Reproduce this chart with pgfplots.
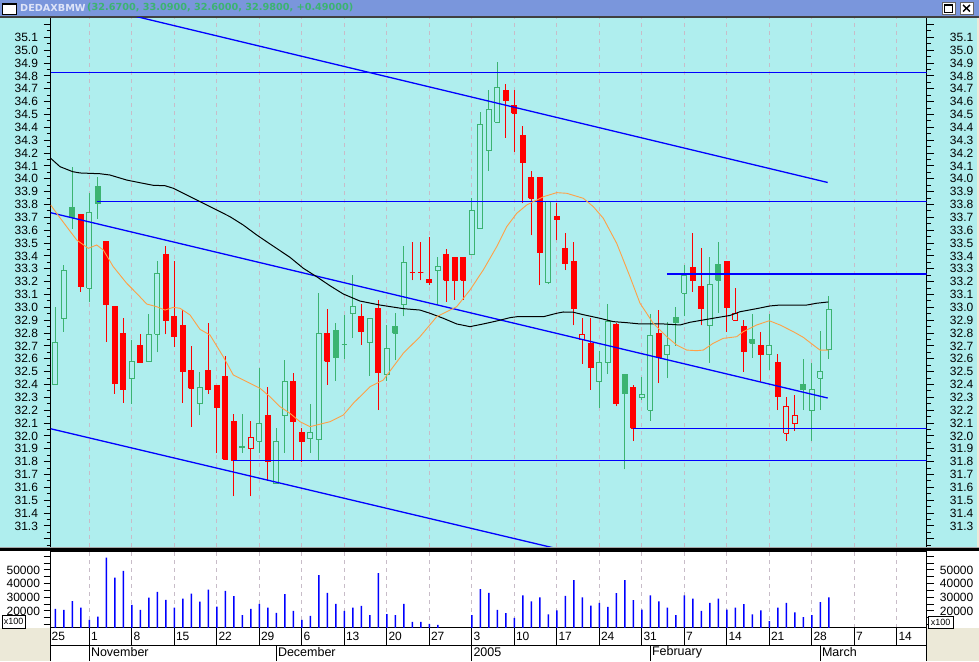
\documentclass[border=0pt]{standalone}
\usepackage{pgfplots}
\pgfplotsset{compat=1.18}
\usepackage{pgfplotstable}
\usepackage{fontspec}
\setmainfont{Liberation Sans}
\newfontfamily\titlefont{DejaVu Sans}
\definecolor{bgcyan}{RGB}{175,238,238}
\definecolor{cgreen}{RGB}{60,179,113}
\definecolor{cred}{RGB}{255,0,0}
\definecolor{titlebar}{RGB}{122,150,220}
\definecolor{titletxt}{RGB}{222,228,248}
\definecolor{winbg}{RGB}{236,233,216}
\definecolor{gridc}{RGB}{200,188,200}
\definecolor{maor}{RGB}{255,160,70}

\pgfplotstableread{
d o h l c g
1 32.40 33.00 32.40 32.73 1
2 32.91 33.33 32.81 33.29 1
3 33.78 34.09 33.61 33.70 1
4 33.72 33.72 33.12 33.16 0
5 33.15 33.89 33.04 33.74 1
6 33.94 34.01 33.69 33.81 1
7 33.51 33.51 32.73 33.02 0
8 33.01 33.01 32.33 32.41 0
9 32.80 32.92 32.26 32.36 0
10 32.45 32.75 32.25 32.58 1
11 32.70 32.79 32.57 32.57 0
12 32.58 32.95 32.58 32.79 1
13 32.79 33.36 32.65 33.26 1
14 33.41 33.48 32.79 32.90 0
15 32.93 33.36 32.69 32.77 0
16 32.86 32.98 32.26 32.50 0
17 32.51 32.70 32.07 32.37 0
18 32.25 32.50 32.16 32.38 1
19 32.51 32.88 32.33 32.36 0
20 32.39 32.39 31.87 32.22 0
21 32.46 32.62 31.82 31.82 0
22 32.11 32.17 31.53 31.81 0
23 31.92 32.17 31.87 31.91 1
24 31.90 32.12 31.53 31.99 0
25 31.96 32.53 31.87 32.10 1
26 32.16 32.38 31.65 31.80 0
27 31.63 32.06 31.63 31.96 1
28 32.16 32.59 31.87 32.42 1
29 32.42 32.49 31.81 32.11 0
30 32.03 32.06 31.80 31.96 0
31 31.98 32.25 31.87 32.03 1
32 31.97 33.11 31.81 32.80 1
33 32.80 32.99 32.40 32.58 0
34 32.82 32.88 32.43 32.61 1
35 32.71 32.94 32.60 32.71 1
36 32.95 33.25 32.76 33.01 1
37 32.93 33.03 32.71 32.81 0
38 32.73 32.91 32.47 32.91 1
39 32.99 33.06 32.20 32.49 0
40 32.48 32.86 32.43 32.68 1
41 32.85 32.96 32.59 32.80 1
42 33.02 33.48 32.93 33.35 1
43 33.27 33.51 33.21 33.27 0
44 33.27 33.51 33.21 33.27 0
45 33.22 33.55 33.17 33.19 0
46 33.29 33.39 33.02 33.32 1
47 33.41 33.45 33.04 33.21 0
48 33.39 33.39 33.06 33.21 0
49 33.39 33.39 33.06 33.21 0
50 33.41 33.85 33.41 33.75 1
51 33.61 34.52 33.61 34.42 1
52 34.22 34.69 34.06 34.54 1
53 34.44 34.91 34.44 34.71 1
54 34.69 34.74 34.32 34.61 0
55 34.57 34.69 34.21 34.51 0
56 34.34 34.41 33.81 34.13 0
57 34.01 34.06 33.56 33.85 0
58 34.01 34.01 33.17 33.43 0
59 33.19 33.83 33.18 33.82 1
60 33.71 33.81 33.52 33.68 0
61 33.46 33.58 33.29 33.34 0
62 33.36 33.51 32.86 32.99 0
63 32.75 32.92 32.56 32.79 0
64 32.72 32.92 32.36 32.53 0
65 32.42 32.66 32.22 32.57 1
66 32.57 33.03 32.48 32.89 1
67 32.87 32.88 32.23 32.25 0
68 32.48 32.48 31.74 32.33 1
69 32.38 32.40 31.96 32.06 0
70 32.30 32.46 32.28 32.32 1
71 32.20 32.95 32.12 32.78 1
72 32.80 32.98 32.41 32.61 0
73 32.63 32.89 32.45 32.70 1
74 32.92 33.00 32.70 32.88 1
75 33.11 33.33 32.93 33.25 1
76 33.31 33.58 33.12 33.21 0
77 33.16 33.46 32.86 32.99 0
78 32.86 33.39 32.57 33.18 1
79 33.33 33.51 32.96 33.21 1
80 33.36 33.36 32.81 33.00 0
81 32.90 33.15 32.90 32.95 0
82 32.85 32.90 32.50 32.66 0
83 32.75 32.95 32.61 32.72 1
84 32.70 32.81 32.42 32.63 0
85 32.63 32.95 32.51 32.70 1
86 32.57 32.64 32.20 32.31 0
87 32.02 32.30 31.96 32.23 0
88 32.10 32.32 32.04 32.16 0
89 32.40 32.60 32.20 32.36 1
90 32.20 32.57 31.96 32.36 1
91 32.45 32.82 32.20 32.50 1
92 32.67 33.09 32.60 32.98 1
}\candles

\pgfplotstableread{
d v
1 21460
2 20730
3 27310
4 22440
5 13420
6 15860
7 59010
8 44380
9 49260
10 24390
11 20730
12 29750
13 33900
14 28050
15 22440
16 29020
17 32680
18 26830
19 35600
20 23170
21 34630
22 30970
23 17070
24 21460
25 25120
26 22440
27 18540
28 32430
29 20000
30 13420
31 16340
32 46330
33 33170
34 25120
35 20000
36 22440
37 23660
38 17070
39 47790
40 17800
41 17070
42 25120
43 11950
44 11950
45 10490
46 9760
50 17070
51 36090
52 33170
53 20730
54 18500
55 15000
56 31500
57 27000
58 30000
59 17500
60 20500
61 31000
62 42500
63 30000
64 24000
65 26000
66 23000
67 33000
68 42500
69 28000
70 21000
71 31500
72 27000
73 22500
74 17000
75 31500
76 29000
77 20000
78 26000
79 29000
80 21000
81 22500
82 25000
83 17500
84 20500
85 12500
86 22500
87 26000
88 19000
89 15500
90 17000
91 26500
92 30000
}\vols

\pgfplotstableread{
x y
0.459 34.159
1.553 34.094
3.047 34.055
3.906 34.045
6.259 34.039
7.435 34.029
9.4 33.99
10.965 33.969
12.53 33.949
13.906 33.946
14.88 33.926
16.459 33.874
18.024 33.822
19.988 33.757
21.553 33.705
23.118 33.64
24.694 33.563
26.259 33.493
28.612 33.389
30.176 33.304
31.753 33.238
33.318 33.168
34.882 33.104
36.847 33.049
39.2 33.018
41.94 32.99
43.906 32.979
45.082 32.954
46.647 32.915
48.224 32.871
49.788 32.85
51.353 32.871
52.929 32.894
54.494 32.92
55.282 32.927
58.412 32.927
59.988 32.954
60.765 32.964
61.94 32.962
63.118 32.943
65.082 32.915
66.647 32.889
68.224 32.881
69.788 32.871
72.53 32.871
74.494 32.863
75.671 32.884
77.235 32.902
78.812 32.92
80.376 32.937
81.553 32.966
83.518 32.99
85.082 33.011
86.259 33.018
89.4 33.018
90.576 33.032
91.94 33.042
}\maslow

\pgfplotstableread{
x y
0.459 33.796
1.165 33.731
2.341 33.627
3.518 33.524
4.882 33.459
5.871 33.485
6.647 33.446
7.824 33.316
9.4 33.187
10.576 33.109
11.753 33.026
12.929 33.005
13.906 32.979
14.882 33.0
15.671 32.993
16.847 32.941
18.024 32.829
19.2 32.785
20.765 32.616
21.941 32.474
23.518 32.422
25.082 32.371
26.259 32.305
27.435 32.228
28.612 32.176
29.788 32.111
30.965 32.072
31.753 32.085
33.318 32.111
34.882 32.163
36.059 32.254
38.024 32.383
39.588 32.435
41.941 32.643
43.906 32.772
45.871 32.927
48.224 33.005
49.788 33.135
51.353 33.291
52.929 33.472
54.106 33.627
55.282 33.731
56.459 33.796
58.412 33.86
59.988 33.892
61.165 33.887
63.118 33.848
64.294 33.783
65.471 33.693
67.047 33.498
68.612 33.238
69.788 33.032
71.353 32.876
72.929 32.772
74.106 32.707
75.282 32.668
76.459 32.663
77.235 32.668
78.412 32.721
79.588 32.759
81.165 32.772
81.941 32.811
83.518 32.863
85.0 32.896
86.259 32.863
87.824 32.811
89.0 32.767
90.176 32.707
90.965 32.668
91.94 32.668
}\mafast

\def\majorp{31.3,31.4,31.5,31.6,31.7,31.8,31.9,32.0,32.1,32.2,32.3,32.4,32.5,32.6,32.7,32.8,32.9,33.0,33.1,33.2,33.3,33.4,33.5,33.6,33.7,33.8,33.9,34.0,34.1,34.2,34.3,34.4,34.5,34.6,34.7,34.8,34.9,35.0,35.1}
\def\minorp{31.15,31.25,31.35,31.45,31.55,31.65,31.75,31.85,31.95,32.05,32.15,32.25,32.35,32.45,32.55,32.65,32.75,32.85,32.95,33.05,33.15,33.25,33.35,33.45,33.55,33.65,33.75,33.85,33.95,34.05,34.15,34.25,34.35,34.45,34.55,34.65,34.75,34.85,34.95,35.05,35.15}

\pgfplotsset{
  chartbase/.style={scale only axis, anchor=south west, width=876pt,
    xmin=0.459, xmax=103.52},
  pricey/.style={height=529pt, ymin=31.1366, ymax=35.2501},
  voly/.style={height=77pt, ymin=7560, ymax=63890},
  labelonly/.style={axis line style={draw=none}, xtick=\empty,
    major tick length=0pt, minor tick length=0pt, tick style={draw=none},
    tick label style={font=\fontsize{12}{12}\selectfont, inner sep=0pt},
    /pgf/number format/assume math mode=true},
}

\begin{document}
\begin{tikzpicture}[x=1pt,y=1pt]
\useasboundingbox (0pt,0pt) rectangle (979pt,661pt);
\fill[winbg] (0,0) rectangle (979,661);
% title bar
\fill[titlebar] (0,645) rectangle (979,661);
\fill[black!75] (0,643) rectangle (979,645);
\fill[white] (2.5,646.5) rectangle (16,657.5);
\draw[black, line width=1pt] (2.5,646.5) rectangle (16,657.5);
\draw[black, line width=2pt] (2.5,656.5) -- (16,656.5);
\node[anchor=west, inner sep=0pt, text=titletxt, font=\titlefont\bfseries\fontsize{9.7}{10}\selectfont] at (20,653.2) {DEDAXBMW};
\node[anchor=west, inner sep=0pt, text=cgreen, font=\titlefont\bfseries\fontsize{9.7}{10}\selectfont] at (87,653.2) {(32.6700, 33.0900, 32.6000, 32.9800, +0.49000)};
\fill[white] (942,646.5) rectangle (955,659);
\draw[black!60, line width=0.8pt] (942,646.5) rectangle (955,659);
\draw[black, line width=0.8pt] (944.5,649) rectangle (952.5,656.5);
\draw[black, line width=1.6pt] (944.5,656) -- (952.5,656);
\fill[white] (960,646.5) rectangle (973,659);
\draw[black!60, line width=0.8pt] (960,646.5) rectangle (973,659);
\draw[black, line width=1.4pt] (963,649.5) -- (970,656) (963,656) -- (970,649.5);
% panels
\fill[bgcyan] (0,114) rectangle (977,643);
\fill[white] (0,33) rectangle (979,110);
\fill[white] (50.7,0) rectangle (926.7,33);
\fill[black!35] (0,112.5) rectangle (979,114);
\fill[black] (0,110) rectangle (979,112.5);

% ---------- main price axis ----------
\begin{axis}[chartbase, pricey, at={(50.7pt,114pt)},
  separate axis lines,
  x axis line style={draw=none},
  y axis line style={black, line width=1pt},
  xtick={5,10,...,100}, xticklabels={}, xtick style={draw=none},
  xmajorgrids, major x grid style={gridc, line width=0.9pt, dash pattern=on 4pt off 4pt},
  ytick=\majorp, yticklabels={},
  extra y ticks={31.2,35.2}, extra y tick labels={},
  minor ytick=\minorp,
  tick align=outside, major tick length=7pt, minor tick length=4pt,
  ytick style={black, line width=1pt},
]
\pgfplotstablegetrowsof{\candles}
\pgfmathtruncatemacro{\lastrow}{\pgfplotsretval-1}
\pgfplotsforeachungrouped \i in {0,...,\lastrow}{%
  \pgfplotstablegetelem{\i}{d}\of\candles \let\Kd=\pgfplotsretval
  \pgfplotstablegetelem{\i}{o}\of\candles \let\Ko=\pgfplotsretval
  \pgfplotstablegetelem{\i}{h}\of\candles \let\Kh=\pgfplotsretval
  \pgfplotstablegetelem{\i}{l}\of\candles \let\Kl=\pgfplotsretval
  \pgfplotstablegetelem{\i}{c}\of\candles \let\Kc=\pgfplotsretval
  \pgfplotstablegetelem{\i}{g}\of\candles \let\Kg=\pgfplotsretval
  \pgfmathsetmacro{\Kxa}{\Kd-0.31}%
  \pgfmathsetmacro{\Kxb}{\Kd+0.31}%
  \pgfmathsetmacro{\Kbot}{min(\Ko,\Kc)}%
  \pgfmathsetmacro{\Ktop}{max(\Ko,\Kc)}%
  \ifnum\Kg=1 \def\Kcol{cgreen}\else\def\Kcol{cred}\fi
  \pgfmathparse{(\Kc<\Ko) ? 1 : 0}%
  \ifdim\pgfmathresult pt>0.5pt \let\Kfil=\Kcol \else\def\Kfil{bgcyan}\fi
  \edef\Ktmp{%
    \noexpand\addplot[draw=\Kcol, line width=1pt, mark=none] coordinates {(\Kd,\Kl) (\Kd,\Kh)};
    \noexpand\addplot[draw=\Kcol, fill=\Kfil, line width=1pt, mark=none] coordinates {(\Kxa,\Kbot) (\Kxb,\Kbot) (\Kxb,\Ktop) (\Kxa,\Ktop) (\Kxa,\Kbot)};
  }%
  \Ktmp
}
% channel and support lines
\addplot[blue, line width=1.3pt, mark=none] coordinates {(9.79,35.273) (91.87,33.971)};
\addplot[blue, line width=1.3pt, mark=none] coordinates {(0.46,33.736) (91.87,32.295)};
\addplot[blue, line width=1.3pt, mark=none] coordinates {(0.46,32.056) (60.38,31.118)};
\addplot[blue, line width=1.3pt, mark=none] coordinates {(0.46,34.825) (103.52,34.825)};
\addplot[blue, line width=1.3pt, mark=none] coordinates {(5.94,33.822) (103.52,33.822)};
\addplot[blue, line width=1.3pt, mark=none] coordinates {(72.96,33.26) (103.52,33.26)};
\addplot[blue, line width=1.3pt, mark=none] coordinates {(69,32.057) (103.52,32.057)};
\addplot[blue, line width=1.3pt, mark=none] coordinates {(21.94,31.808) (103.52,31.808)};
% moving averages
\addplot[black, line width=1pt, mark=none] table[x=x,y=y] {\maslow};
\addplot[maor, line width=0.9pt, mark=none] table[x=x,y=y] {\mafast};
\end{axis}

% left / right price labels
\begin{axis}[chartbase, pricey, at={(50.7pt,114pt)}, labelonly,
  ytick=\majorp, yticklabel pos=left,
  yticklabel style={anchor=east, xshift=-12.5pt},
  /pgf/number format/.cd, fixed, fixed zerofill, precision=1]
\end{axis}
\begin{axis}[chartbase, pricey, at={(50.7pt,114pt)}, labelonly,
  ytick=\majorp, yticklabel pos=right,
  yticklabel style={anchor=west, xshift=23pt},
  /pgf/number format/.cd, fixed, fixed zerofill, precision=1]
\end{axis}

% ---------- volume axis ----------
\begin{axis}[chartbase, voly, at={(50.7pt,33pt)},
  axis line style={black, line width=1pt},
  xtick={5,10,...,100}, xticklabels={}, xtick style={draw=none},
  xmajorgrids, major x grid style={gridc, line width=0.9pt, dash pattern=on 4pt off 4pt},
  ytick={20000,30000,40000,50000}, yticklabels={},
  minor ytick={10000,15000,25000,35000,45000,55000,60000},
  tick align=outside, major tick length=7pt, minor tick length=7pt,
  ytick style={black, line width=1pt},
  scaled y ticks=false,
]
\addplot[ybar, bar width=1.5pt, fill=blue, draw=none] table[x=d,y=v] {\vols};
\end{axis}
\begin{axis}[chartbase, voly, at={(50.7pt,33pt)}, labelonly, scaled y ticks=false,
  ytick={20000,30000,40000,50000}, yticklabel pos=left,
  yticklabel style={anchor=east, xshift=-10.5pt},
  /pgf/number format/.cd, fixed, 1000 sep={}]
\end{axis}
\begin{axis}[chartbase, voly, at={(50.7pt,33pt)}, labelonly, scaled y ticks=false,
  ytick={20000,30000,40000,50000}, yticklabel pos=right,
  yticklabel style={anchor=west, xshift=13pt},
  /pgf/number format/.cd, fixed, 1000 sep={}]
\end{axis}

% x100 boxes
\draw[black, line width=0.8pt, fill=white] (2,33) rectangle (25.5,46);
\node[font=\fontsize{9}{9}\selectfont, inner sep=0pt] at (13.7,39.5) {x100};
\draw[black, line width=0.8pt, fill=white] (928.5,33) rectangle (953,44.5);
\node[font=\fontsize{9}{9}\selectfont, inner sep=0pt] at (940.7,38.7) {x100};

% date rows
\draw[black, line width=1pt] (50.7,16) -- (926.7,16);
\draw[black, line width=1pt] (50.7,0) -- (50.7,33) (926.7,0) -- (926.7,33);
\node[anchor=west, inner sep=0pt, font=\fontsize{12}{12}\selectfont] at (51.5,25) {25};
\foreach \k/\lab in {0/1,1/8,2/15,3/22,4/29,5/6,6/13,7/20,8/27,9/3,10/10,11/17,12/24,13/31,14/7,15/14,16/21,17/28,18/7,19/14}{
  \draw[black, line width=1pt] ({89.3+42.5*\k},16) -- ({89.3+42.5*\k},33);
  \node[anchor=west, inner sep=0pt, font=\fontsize{12}{12}\selectfont] at ({90.8+42.5*\k},25) {\lab};
}
\foreach \xx/\lab in {89.3/November,276.3/December,471.8/2005,650.3/February,820.3/March}{
  \draw[black, line width=1pt] (\xx,0) -- (\xx,16);
  \node[anchor=west, inner sep=0pt, font=\fontsize{12.5}{12.5}\selectfont] at (\xx+1.5,8.5) {\lab};
}
\end{tikzpicture}
\end{document}
